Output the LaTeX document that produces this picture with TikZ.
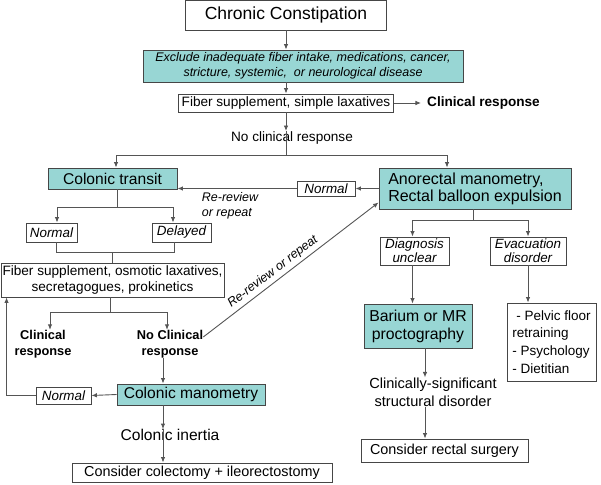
\documentclass[tikz,border=0pt]{standalone}
\usepackage{fontspec}
\setmainfont{Liberation Sans}
\usepackage{tikz}
\usetikzlibrary{arrows.meta,calc}
\usepackage{xcolor}
\definecolor{cyanbox}{RGB}{152,214,212}
\definecolor{boxgray}{RGB}{70,70,70}
\definecolor{linegray}{RGB}{85,85,85}
\tikzstyle{line} = [draw=linegray, line width=0.9pt]
\tikzstyle{arr} = [line, ->]

\begin{document}
\begin{tikzpicture}[x=1pt,y=-1pt,>={Latex[length=5.5pt,width=4.5pt]}]
    \tikzstyle{plain}=[draw=boxgray,line width=0.9pt,inner sep=0pt,align=center]
    \tikzstyle{shaded}=[plain,fill=cyanbox]
    \tikzstyle{note}=[inner sep=0pt,align=center]
    \tikzstyle{huge}=[font=\fontsize{17.5}{20}\selectfont]
    \tikzstyle{big}=[font=\fontsize{15.6}{18}\selectfont]
    \tikzstyle{mid}=[font=\fontsize{13.6}{15.5}\selectfont]
    \tikzstyle{midit}=[font=\fontsize{13.4}{14}\selectfont\itshape]
    \tikzstyle{smallit}=[font=\fontsize{12.5}{15}\selectfont\itshape]
    \tikzstyle{bold}=[font=\fontsize{12.8}{16}\selectfont\bfseries]
    \useasboundingbox (0,0) rectangle (601,484);

    % top of the chart
    \node[plain,huge,minimum width=201,minimum height=30] (chronic) at (286,15) {Chronic Constipation};
    \node[shaded,smallit,minimum width=320,minimum height=32] (exclude) at (303,66)
        {Exclude inadequate fiber intake, medications, cancer,\\ stricture, systemic,\ \ or neurological disease};
    \node[plain,mid,minimum width=215,minimum height=18] (fiber) at (286,103) {Fiber supplement, simple laxatives};
    \node[note,font=\fontsize{13.6}{16}\selectfont\bfseries] (clin) at (483.5,103) {Clinical response};
    \node[note,mid] (noresp) at (292,138) {No clinical response};
    \coordinate (split) at (286,155);

    \draw[arr] (chronic.south) -- (chronic.south |- exclude.north);
    \draw[arr] (exclude.south -| fiber.north) -- (fiber.north);
    \draw[arr] (fiber.east) -- ([xshift=-6pt]clin.west);
    \draw[arr] (fiber.south) -- (fiber.south |- 0,131);
    \draw[line] (fiber.south |- 0,131) -- (split);

    % left branch
    \node[shaded,big,minimum width=129,minimum height=21] (transit) at (112.5,178.5) {Colonic transit};
    \node[plain,midit,minimum width=51,minimum height=19] (normL) at (51.5,232.5) {Normal};
    \node[plain,midit,minimum width=59,minimum height=19] (delayed) at (181.5,232.5) {Delayed};
    \node[plain,mid,minimum width=223,minimum height=34] (fiber2) at (112.5,280)
        {Fiber supplement, osmotic laxatives,\\ secretagogues, prokinetics};
    \node[note,bold] (clinL) at (43,344) {Clinical\\ response};
    \node[note,bold] (noClin) at (170,344) {No Clinical\\ response};
    \node[shaded,big,minimum width=148,minimum height=21] (manometry) at (191,394.5) {Colonic manometry};
    \node[plain,midit,minimum width=55,minimum height=17] (normL2) at (63.5,395.5) {Normal};
    \node[note,big] (inertia) at (170,435) {Colonic inertia};
    \node[plain,font=\fontsize{14.4}{16}\selectfont,minimum width=260,minimum height=19] (colectomy) at (202,472.5)
        {Consider colectomy + ileorectostomy};
    \coordinate (tsplit) at (117,207);
    \coordinate (merge) at (112,252);
    \coordinate (fsplit) at (110,312);

    \draw[arr] (split) -| ([xshift=3.5pt]transit.north);
    \draw[line] (transit.south -| tsplit) -- (tsplit);
    \draw[arr] (tsplit) -| ([xshift=5.5pt]normL.north);
    \draw[arr] (tsplit) -| ([xshift=-8.5pt]delayed.north);
    \draw[line] ([xshift=4.5pt]normL.south) |- ([xshift=-7.5pt]delayed.south |- merge) -- ([xshift=-7.5pt]delayed.south);
    \draw[line] (merge) -- (fiber2.north -| merge);
    \draw[line] (fiber2.south -| fsplit) -- (fsplit);
    \draw[arr] (fsplit) -| ([xshift=7pt]clinL.north);
    \draw[arr] (fsplit) -| ([xshift=-3pt]noClin.north);
    \draw[arr] ([xshift=-7pt]noClin.south) -- ([xshift=-7pt]noClin.south |- manometry.north);
    \draw[arr] (manometry.west) -- (normL2.east);
    \draw[arr] (normL2.west) -| ([xshift=6pt]fiber2.south west);
    \draw[arr] (manometry.south -| 163,0) -- (inertia.north -| 163,0);
    \draw[arr] (inertia.north -| 163,0) -- (colectomy.north -| 163,0);

    % right branch
    \node[shaded,font=\fontsize{16}{17}\selectfont,align=left,minimum width=192,minimum height=41] (anorectal) at (475,188.5)
        {Anorectal manometry,\\ Rectal balloon expulsion};
    \node[plain,midit,minimum width=58,minimum height=15] (normR) at (326,188.5) {Normal};
    \node[note,smallit,align=left] (rerev) at (230,205.5) {Re-review\\ or repeat};
    \node[plain,midit,minimum width=69,minimum height=28] (diag) at (414.5,251) {Diagnosis\\ unclear};
    \node[plain,midit,minimum width=76,minimum height=28] (evac) at (528,251) {Evacuation\\ disorder};
    \node[shaded,font=\fontsize{15.8}{18}\selectfont,minimum width=108,minimum height=44] (barium) at (418,326)
        {Barium or MR\\ proctography};
    \node[plain,font=\fontsize{13.5}{17.7}\selectfont,align=left,minimum width=89,minimum height=78] (pelvic) at (551.5,342)
        {\hspace{4pt}- Pelvic floor\\ retraining\\ - Psychology\\ - Dietitian};
    \node[note,font=\fontsize{14.6}{18}\selectfont] (clinsig) at (433,392) {Clinically-significant\\ structural disorder};
    \node[plain,font=\fontsize{14.4}{16}\selectfont,minimum width=167,minimum height=23] (rectal) at (444.5,450.5)
        {Consider rectal surgery};
    \coordinate (asplit) at (473,220);

    \draw[arr] (split) -| (447,0 |- anorectal.north);
    \draw[arr] (anorectal.west) -- (normR.east);
    \draw[arr] (normR.west) -- (normR.west -| transit.east);
    \draw[arr] ([yshift=7pt]noClin.east) -- node[sloped,above,pos=0.43,inner sep=3pt,smallit] {Re-review or repeat}
        ([yshift=7pt]anorectal.south west);
    \draw[line] (anorectal.south -| asplit) -- (asplit);
    \draw[arr] (asplit) -| ([xshift=-2pt]diag.north);
    \draw[arr] (asplit) -| (evac.north);
    \draw[arr] ([xshift=-2pt]diag.south) -- ([xshift=-2pt]diag.south |- barium.north);
    \draw[arr] (evac.south) -- (evac.south |- pelvic.north);
    \draw[arr] ([xshift=7pt]barium.south) -- ([xshift=7pt]barium.south |- clinsig.north);
    \draw[arr] ([xshift=-8pt]clinsig.south) -- ([xshift=-8pt]clinsig.south |- rectal.north);
\end{tikzpicture}
\end{document}
